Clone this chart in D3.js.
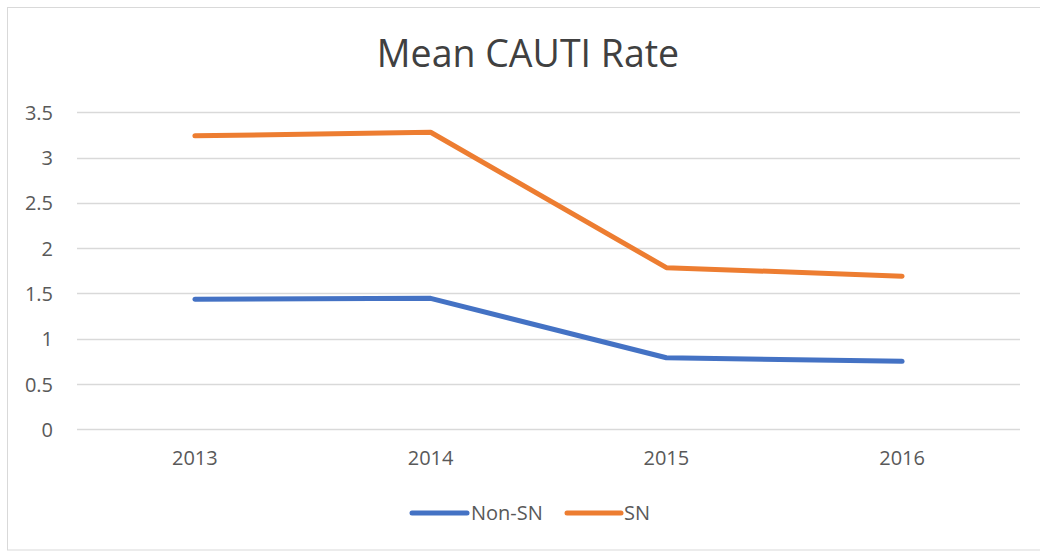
<!DOCTYPE html>
<html><head><meta charset="utf-8">
<script src="https://cdn.jsdelivr.net/npm/d3@7"></script>
<style>body{margin:0;background:#fff;} svg{display:block;font-family:"Open Sans",sans-serif;}</style>
</head><body>
<svg id="c" width="1040" height="552"></svg>
<script>
const title = "Mean CAUTI Rate";
const years = ["2013","2014","2015","2016"];
const nonSN = [1.435, 1.446, 0.79, 0.75];
const sn = [3.24, 3.28, 1.785, 1.69];
const yTicks = [0, 0.5, 1, 1.5, 2, 2.5, 3, 3.5];
const seriesNames = ["Non-SN", "SN"];
const colors = ["#4472C4", "#ED7D31"];

(function(){
const svg = d3.select("#c");
svg.append("rect").attr("x",7.5).attr("y",7.5).attr("width",1040).attr("height",542.5)
  .attr("fill","#fff").attr("stroke","#d9d9d9").attr("stroke-width",1);

const pL = 77, pR = 1020, pT = 112.3, pB = 429.3;
const x = d3.scaleBand().domain(years).range([pL,pR]);
const y = d3.scaleLinear().domain([0,3.5]).range([pB,pT]);

svg.append("g").selectAll("line").data(yTicks).join("line")
  .attr("x1",pL).attr("x2",pR)
  .attr("y1",d=>Math.round(y(d))+0.5).attr("y2",d=>Math.round(y(d))+0.5)
  .attr("stroke","#d9d9d9").attr("stroke-width",1.3);

const yAxis = d3.axisLeft(y).tickValues(yTicks).tickSize(0).tickPadding(0).tickFormat(d=>String(d));
const ya = svg.append("g").attr("transform","translate(53,0)").call(yAxis);
ya.select(".domain").remove();
ya.selectAll("text").attr("font-size",20).attr("fill","#595959").attr("font-family","Open Sans").attr("dy","0.35em");

const xAxis = d3.axisBottom(x).tickSize(0).tickPadding(0);
const xa = svg.append("g").attr("transform","translate(0,451)").call(xAxis);
xa.select(".domain").remove();
xa.selectAll("text").attr("font-size",20).attr("fill","#595959").attr("font-family","Open Sans").attr("dy","0.71em");

const line = d3.line().x((d,i)=>x(years[i])+x.bandwidth()/2).y(d=>y(d));
[nonSN, sn].forEach((s,i)=>{
  svg.append("path").datum(s).attr("d",line).attr("fill","none")
    .attr("stroke",colors[i]).attr("stroke-width",5).attr("stroke-linecap","round").attr("stroke-linejoin","round");
});

svg.append("text").attr("x",528).attr("y",67).attr("text-anchor","middle")
  .attr("fill","#404040").attr("font-size",37.5).text(title);

const legendItems = [{x1:412,x2:467,tx:471},{x1:567,x2:621,tx:624}];
seriesNames.forEach((n,i)=>{
  const L = legendItems[i];
  svg.append("line").attr("x1",L.x1).attr("x2",L.x2).attr("y1",513).attr("y2",513)
    .attr("stroke",colors[i]).attr("stroke-width",5).attr("stroke-linecap","round");
  svg.append("text").attr("x",L.tx).attr("y",513).attr("dy","0.35em").attr("font-size",20)
    .attr("fill","#595959").text(n);
});
})();
</script>
</body></html>
